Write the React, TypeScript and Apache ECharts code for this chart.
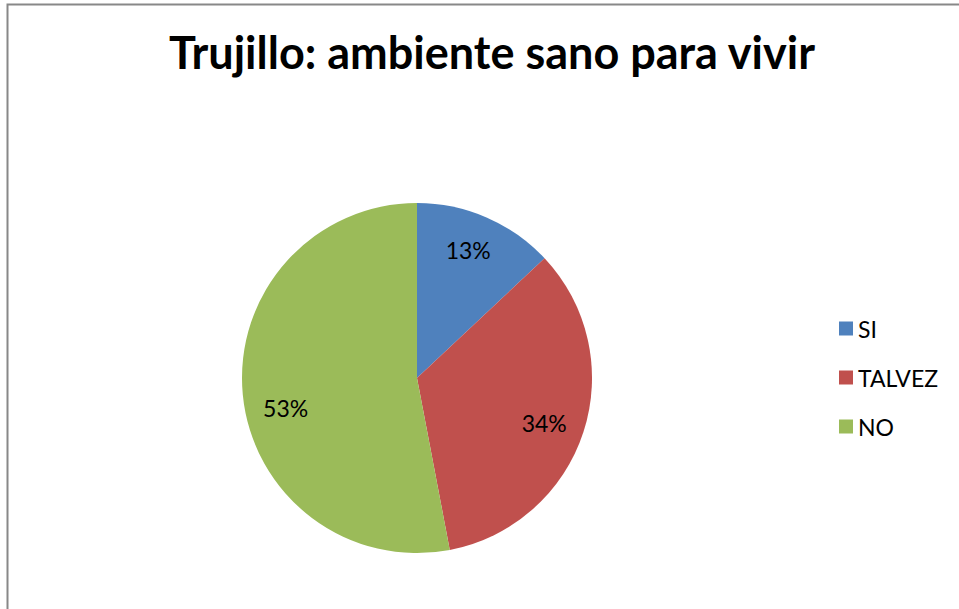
import React, { useEffect, useRef } from "react";
import * as echarts from "echarts";

const categories = ["SI", "TALVEZ", "NO"];
const values = [13, 34, 53];
const colors = ["#4F81BD", "#C0504D", "#9BBB59"];
const titleText = "Trujillo: ambiente sano para vivir";
const labelNudges = [
  [-4, 0],
  [-5, 2],
  [7, 17],
];

export default function App() {
  const ref = useRef<HTMLDivElement>(null);
  useEffect(() => {
    if (!ref.current) return;
    const chart = echarts.init(ref.current, null, { renderer: "svg" });
    const data = categories.map((c, i) => ({ name: c, value: values[i], itemStyle: { color: colors[i] } }));
    chart.setOption({
      animation: false,
      backgroundColor: "#fff",
      title: {
        text: titleText,
        left: 487,
        textAlign: "center",
        top: 24,
        textStyle: { fontFamily: "Lato", fontWeight: "bold", fontSize: 45, color: "#000" },
      },
      legend: {
        orient: "vertical",
        left: 834,
        top: 312,
        itemWidth: 14,
        itemHeight: 14,
        itemGap: 26,
        icon: "rect",
        data: categories,
        textStyle: { fontFamily: "Lato", fontSize: 23, color: "#000", lineHeight: 23 },
      },
      graphic: [
        {
          type: "rect",
          shape: { x: 7.5, y: 4.5, width: 1000, height: 700 },
          style: { fill: "none", stroke: "#888", lineWidth: 2 },
          silent: true,
        },
      ],
      series: [
        {
          type: "pie",
          center: [417, 378],
          radius: [0, 175],
          startAngle: 90,
          clockwise: true,
          label: { show: false },
          labelLine: { show: false },
          emphasis: { disabled: true },
          data,
        },
        {
          type: "pie",
          center: [417, 378],
          radius: [97, 175],
          startAngle: 90,
          clockwise: true,
          silent: true,
          itemStyle: { color: "rgba(0,0,0,0)", borderWidth: 0 },
          label: {
            show: true,
            position: "inside",
            formatter: "{d}%",
            fontFamily: "Lato",
            fontSize: 23,
            color: "#000",
          },
          labelLayout: (p: any) => ({ dx: labelNudges[p.dataIndex][0], dy: labelNudges[p.dataIndex][1] }),
          labelLine: { show: false },
          emphasis: { disabled: true },
          data: categories.map((c, i) => ({ name: c, value: values[i] })),
        },
      ],
    });
    return () => chart.dispose();
  }, []);
  return <div ref={ref} style={{ position: "absolute", left: 0, top: 0, width: 959, height: 609 }} />;
}
